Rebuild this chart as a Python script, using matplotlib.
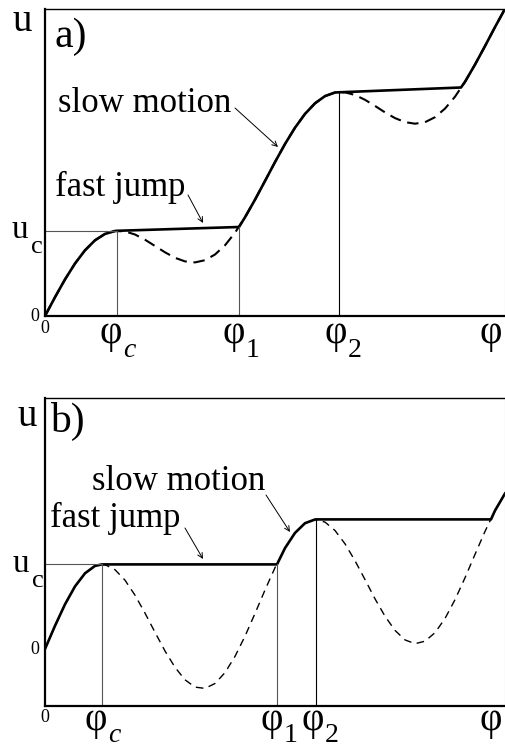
import matplotlib
matplotlib.use("Agg")
import matplotlib.pyplot as plt

plt.rcParams['font.family'] = ['Liberation Serif', 'DejaVu Serif']

# a) slowly driven system: stationary branch u(phi) and the actual path
phi_a = [0, 10, 20, 30, 40, 50, 60, 70, 80, 90, 100, 110, 120, 130, 140, 150,
         160, 170, 180, 190, 200, 210, 220, 230, 240, 250, 260, 270, 280, 290,
         300, 310, 320, 330, 340, 350, 360, 370, 380, 390, 400, 410, 420, 430,
         440, 450, 460]
u_a = [0, 18.8, 36.6, 52.5, 65.7, 75.7, 82.1, 85.0, 84.6, 81.5, 76.3, 70.0,
       63.7, 58.2, 54.6, 53.6, 55.8, 61.5, 70.7, 83.3, 98.7, 116.3, 135.0,
       153.9, 172.0, 188.3, 202.1, 212.7, 219.9, 223.5, 223.7, 221.0, 216.2,
       210.1, 203.6, 197.9, 193.9, 192.3, 193.8, 198.8, 207.4, 219.3, 234.2,
       251.4, 269.9, 288.9, 307.2]
path_phi_a = [0, 10, 20, 30, 40, 50, 60, 70, 72, 194, 200, 210, 220, 230, 240,
              250, 260, 270, 280, 290, 294, 416, 420, 430, 440, 450, 460]
path_u_a = [0, 18.8, 36.6, 52.5, 65.7, 75.7, 82.1, 85.0, 85.2, 89.0, 98.7,
            116.3, 135.0, 153.9, 172.0, 188.3, 202.1, 212.7, 219.9, 223.5,
            223.7, 228.5, 234.2, 251.4, 269.9, 288.9, 307.2]
marks_a = [72, 194, 294]          # phi_c, phi_1, phi_2
marks_u_a = [85.2, 89.0, 223.7]

# b) strongly nonmonotonic branch
phi_b = phi_a
u_b = [0, 23.2, 44.7, 62.6, 75.7, 83.1, 84.3, 79.3, 68.8, 53.8, 35.9, 16.7,
       -2.0, -18.3, -30.8, -38.1, -39.4, -34.5, -23.6, -7.4, 12.8, 35.5, 59.0,
       81.3, 100.9, 116.1, 125.8, 129.5, 126.9, 118.5, 105.2, 88.3, 69.4,
       50.2, 32.8, 18.6, 9.1, 5.3, 7.8, 16.3, 30.5, 49.3, 71.2, 94.6, 117.6,
       138.4, 155.5]
path_phi_b = [0, 10, 20, 30, 40, 50, 57, 232, 240, 250, 260, 270, 271, 446,
              450, 460]
path_u_b = [0, 23.2, 44.7, 62.6, 75.7, 83.1, 84.6, 84.6, 100.9, 116.1, 125.8,
            129.5, 129.6, 129.6, 138.4, 155.5]
marks_b = [57, 232, 271]
marks_u_b = [84.6, 84.6, 129.6]

W, H = 506, 747
fig = plt.figure(figsize=(W / 100, H / 100), dpi=100)
ax_a = fig.add_axes([45 / W, (H - 316) / H, 460 / W, 307 / H])
ax_b = fig.add_axes([45 / W, (H - 706) / H, 460 / W, 308 / H])


def frame(ax, ylim):
    ax.set_xlim(0, 460)
    ax.set_ylim(*ylim)
    ax.set_xticks([])
    ax.set_yticks([])
    ax.spines['left'].set_linewidth(1.6)
    ax.spines['bottom'].set_linewidth(1.6)
    ax.spines['top'].set_linewidth(1.0)
    ax.spines['right'].set_linewidth(0.8)
    ax.spines['right'].set_color('#bbbbbb')


def phi_label(ax, x, sub, base, dy, italic=False):
    ax.text(x, base - dy[0], 'φ', fontsize=28, ha='center', va='baseline',
            clip_on=False)
    if sub:
        ax.text(x + 12, base - dy[1], sub, fontsize=20, ha='left',
                va='baseline', style='italic' if italic else 'normal',
                clip_on=False)


def common(ax, marks, marks_u, colors, name, u_pos, name_pos, uc_pos, dy):
    bottom = ax.get_ylim()[0]
    for m, mu, c in zip(marks, marks_u, colors):
        ax.plot([m, m], [bottom, mu], color=c, lw=0.8)
    ax.plot([0, marks[0]], [marks_u[0], marks_u[0]], color=colors[0], lw=0.8)
    ax.text(u_pos[0], u_pos[1], 'u', fontsize=28, ha='left', va='baseline',
            clip_on=False)
    ax.text(name_pos[0], name_pos[1], name, fontsize=30, ha='left',
            va='baseline')
    ax.text(uc_pos[0], uc_pos[1], 'u', fontsize=24, ha='left', va='baseline',
            clip_on=False)
    ax.text(uc_pos[0] + 19, uc_pos[1] - 15, 'c', fontsize=19, ha='left',
            va='baseline', clip_on=False)
    ax.text(-10, 0, '0', fontsize=13, ha='center', va='center', clip_on=False)
    ax.text(0, bottom - 12, '0', fontsize=13, ha='center', va='center',
            clip_on=False)
    phi_label(ax, marks[0] - 6, 'c', bottom, dy, italic=True)
    phi_label(ax, marks[1] - 5, '1', bottom, dy)
    phi_label(ax, marks[2] - 3, '2', bottom, dy)
    phi_label(ax, 446, None, bottom, dy)


arrow = dict(arrowstyle='->', lw=0.7, color='black', shrinkA=0, shrinkB=0,
             mutation_scale=9)

# panel a
frame(ax_a, (0, 307))
ax_a.plot(phi_a, u_a, color='black', lw=1.5, dashes=(5.5, 3.2))
ax_a.plot(path_phi_a, path_u_a, color='black', lw=1.9)
common(ax_a, marks_a, marks_u_a, ['#555555', '#555555', 'black'],
       'a)', (-32, 285), (10, 269), (-33, 78), (27, 41))
ax_a.text(13, 204, 'slow motion', fontsize=25, ha='left', va='baseline')
ax_a.text(10, 120, 'fast jump', fontsize=25, ha='left', va='baseline')
ax_a.annotate('', xy=(158, 93), xytext=(143, 121), arrowprops=arrow)
ax_a.annotate('', xy=(233, 169), xytext=(190, 208), arrowprops=arrow)

# panel b
frame(ax_b, (-57, 251))
ax_b.plot(phi_b, u_b, color='black', lw=1.0, dashes=(5.5, 4))
ax_b.plot(path_phi_b, path_u_b, color='black', lw=1.9)
common(ax_b, marks_b, marks_u_b, ['#555555', '#555555', 'black'],
       'b)', (-27, 223), (5, 217), (-32, 77), (24, 36))
ax_b.text(47, 159, 'slow motion', fontsize=25, ha='left', va='baseline')
ax_b.text(5, 122, 'fast jump', fontsize=25, ha='left', va='baseline')
ax_b.annotate('', xy=(158, 90), xytext=(140, 121), arrowprops=arrow)
ax_b.annotate('', xy=(245, 117), xytext=(221, 154), arrowprops=arrow)

fig.savefig('out.png', dpi=100)
